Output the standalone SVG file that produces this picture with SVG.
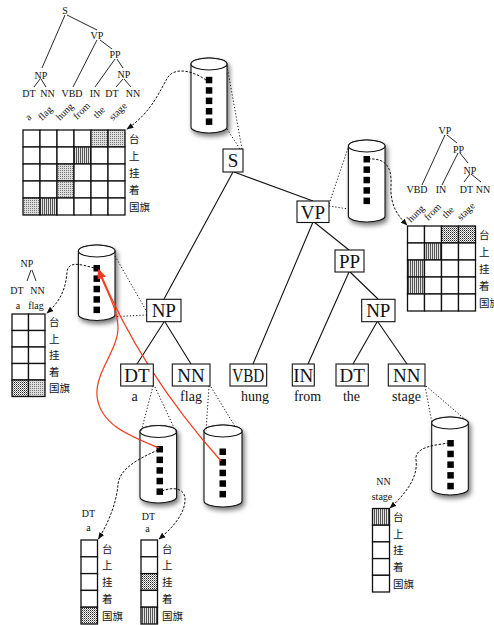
<svg xmlns="http://www.w3.org/2000/svg" width="494" height="625" viewBox="0 0 494 625">
<style>
.t{font-family:"Liberation Serif","DejaVu Serif",serif;font-size:10px;fill:#111;text-anchor:middle}
.tw{font-family:"Liberation Serif","DejaVu Serif",serif;font-size:10px;fill:#111}
.zh{font-family:"Noto Sans CJK SC",sans-serif;font-size:10.5px;fill:#111}
.nb{fill:#fff;stroke:#111;stroke-width:1.1}
.nl{font-family:"Liberation Serif","DejaVu Serif",serif;font-size:19px;fill:#111;text-anchor:middle}
.lw{font-family:"Liberation Serif","DejaVu Serif",serif;font-size:14px;fill:#111;text-anchor:middle}
.e{stroke:#111;stroke-width:1.1;fill:none}
.te{stroke:#111;stroke-width:0.9;fill:none}
.dot{stroke:#111;stroke-width:1;fill:none;stroke-dasharray:1.2 2}
.dsh{stroke:#111;stroke-width:1;fill:none;stroke-dasharray:2.5 1.5;marker-end:url(#ah)}
.red{stroke:#f23a1c;stroke-width:1.2;fill:none;marker-end:url(#rh)}
.cyl{fill:#fff;stroke:#111;stroke-width:1.1}
.sq{fill:#000}
.c{fill:#fff;stroke:#111;stroke-width:1.3}
.pd{fill:url(#pd);stroke:#111;stroke-width:1.3}
.pg{fill:url(#pg);stroke:#111;stroke-width:1.3}
.pv{fill:url(#pv);stroke:#111;stroke-width:1.3}
</style>
<defs>
<pattern id="pd" width="2" height="2" patternUnits="userSpaceOnUse"><rect width="2" height="2" fill="#fff"/><rect width="1" height="1" fill="#222"/><rect x="1" y="1" width="1" height="1" fill="#888"/></pattern>
<pattern id="pg" width="2" height="2" patternUnits="userSpaceOnUse"><rect width="2" height="2" fill="#ddd"/><rect width="1" height="1" fill="#777"/></pattern>
<pattern id="pv" width="2" height="2" patternUnits="userSpaceOnUse"><rect width="2" height="2" fill="#e4e4e4"/><rect width="1" height="2" fill="#555"/></pattern>
<marker id="ah" viewBox="0 0 10 10" refX="9" refY="5" markerWidth="7" markerHeight="7" orient="auto"><path d="M0,1 L10,5 L0,9 z" fill="#111"/></marker>
<marker id="rh" viewBox="0 0 10 10" refX="9" refY="5" markerWidth="8" markerHeight="8" orient="auto"><path d="M0,1 L10,5 L0,9 z" fill="#f23a1c"/></marker>
<filter id="sh" x="-60%" y="-30%" width="220%" height="160%"><feDropShadow dx="2" dy="3" stdDeviation="2.5" flood-color="#000" flood-opacity="0.55"/></filter>
</defs>
<rect width="494" height="625" fill="#fff"/>

<!-- top-left tree -->
<g id="tree-full">
<path class="te" d="M65,15 L42,68 M67,15 L97,30 M97,40 L73,87 M100,40 L112,49 M115,59 L95,87 M117,59 L123,68 M40,79 L34,87 M41,79 L46,87 M123,79 L116,87 M124,79 L131,87"/>
<text class="t" x="65" y="13.5">S</text>
<text class="t" x="97" y="38.5">VP</text>
<text class="t" x="115" y="57.5">PP</text>
<text class="t" x="41" y="78.5">NP</text>
<text class="t" x="124" y="77.5">NP</text>
<text class="t" x="29" y="96.5">DT</text>
<text class="t" x="47.5" y="96.5">NN</text>
<text class="t" x="72" y="96.5">VBD</text>
<text class="t" x="95" y="96.5">IN</text>
<text class="t" x="112" y="96.5">DT</text>
<text class="t" x="133" y="96.5">NN</text>
<text class="tw" transform="translate(29,121) rotate(-45)">a</text>
<text class="tw" transform="translate(42,121) rotate(-45)">flag</text>
<text class="tw" transform="translate(60,121) rotate(-45)">hung</text>
<text class="tw" transform="translate(77,120) rotate(-45)">from</text>
<text class="tw" transform="translate(97,119) rotate(-45)">the</text>
<text class="tw" transform="translate(113,121) rotate(-45)">stage</text>
</g>
<g id="matrix-full">
<rect class="c" x="23" y="130" width="17" height="17"/><rect class="c" x="40" y="130" width="17" height="17"/><rect class="c" x="57" y="130" width="17" height="17"/><rect class="c" x="74" y="130" width="17" height="17"/><rect class="pg" x="91" y="130" width="17" height="17"/><rect class="pg" x="108" y="130" width="17" height="17"/>
<rect class="c" x="23" y="147" width="17" height="17"/><rect class="c" x="40" y="147" width="17" height="17"/><rect class="c" x="57" y="147" width="17" height="17"/><rect class="pv" x="74" y="147" width="17" height="17"/><rect class="c" x="91" y="147" width="17" height="17"/><rect class="c" x="108" y="147" width="17" height="17"/>
<rect class="c" x="23" y="164" width="17" height="17"/><rect class="c" x="40" y="164" width="17" height="17"/><rect class="pg" x="57" y="164" width="17" height="17"/><rect class="c" x="74" y="164" width="17" height="17"/><rect class="c" x="91" y="164" width="17" height="17"/><rect class="c" x="108" y="164" width="17" height="17"/>
<rect class="c" x="23" y="181" width="17" height="17"/><rect class="c" x="40" y="181" width="17" height="17"/><rect class="pg" x="57" y="181" width="17" height="17"/><rect class="c" x="74" y="181" width="17" height="17"/><rect class="c" x="91" y="181" width="17" height="17"/><rect class="c" x="108" y="181" width="17" height="17"/>
<rect class="pg" x="23" y="198" width="17" height="17"/><rect class="pv" x="40" y="198" width="17" height="17"/><rect class="c" x="57" y="198" width="17" height="17"/><rect class="c" x="74" y="198" width="17" height="17"/><rect class="c" x="91" y="198" width="17" height="17"/><rect class="c" x="108" y="198" width="17" height="17"/>
<text class="zh" x="129" y="142.5">台</text><text class="zh" x="129" y="159.5">上</text><text class="zh" x="129" y="176.5">挂</text><text class="zh" x="129" y="193.5">着</text><text class="zh" x="129" y="210.5">国旗</text>
</g>

<!-- right tree -->
<g id="tree-vp">
<path class="te" d="M445,135 L422,185 M447,135 L457,143 M458,153 L442,185 M460,153 L468,163 M470,174 L464,182 M471,174 L481,182"/>
<text class="t" x="445" y="133.5">VP</text>
<text class="t" x="458.5" y="152.5">PP</text>
<text class="t" x="470" y="173.5">NP</text>
<text class="t" x="417" y="192.5">VBD</text>
<text class="t" x="441" y="192.5">IN</text>
<text class="t" x="466.5" y="192.5">DT</text>
<text class="t" x="483" y="192.5">NN</text>
<text class="tw" transform="translate(411,223) rotate(-45)">hung</text>
<text class="tw" transform="translate(428,221) rotate(-45)">from</text>
<text class="tw" transform="translate(446,219) rotate(-45)">the</text>
<text class="tw" transform="translate(461,221) rotate(-45)">stage</text>
</g>
<g id="matrix-vp">
<rect class="c" x="407.5" y="226" width="17" height="17"/><rect class="c" x="424.5" y="226" width="17" height="17"/><rect class="pd" x="441.5" y="226" width="17" height="17"/><rect class="pd" x="458.5" y="226" width="17" height="17"/>
<rect class="c" x="407.5" y="243" width="17" height="17"/><rect class="pv" x="424.5" y="243" width="17" height="17"/><rect class="c" x="441.5" y="243" width="17" height="17"/><rect class="c" x="458.5" y="243" width="17" height="17"/>
<rect class="pv" x="407.5" y="260" width="17" height="17"/><rect class="c" x="424.5" y="260" width="17" height="17"/><rect class="c" x="441.5" y="260" width="17" height="17"/><rect class="c" x="458.5" y="260" width="17" height="17"/>
<rect class="pv" x="407.5" y="277" width="17" height="17"/><rect class="c" x="424.5" y="277" width="17" height="17"/><rect class="c" x="441.5" y="277" width="17" height="17"/><rect class="c" x="458.5" y="277" width="17" height="17"/>
<rect class="c" x="407.5" y="294" width="17" height="17"/><rect class="c" x="424.5" y="294" width="17" height="17"/><rect class="c" x="441.5" y="294" width="17" height="17"/><rect class="c" x="458.5" y="294" width="17" height="17"/>
<text class="zh" x="479" y="238.5">台</text><text class="zh" x="479" y="255.5">上</text><text class="zh" x="479" y="272.5">挂</text><text class="zh" x="479" y="289.5">着</text><text class="zh" x="479" y="306.5">国旗</text>
</g>

<!-- left NP tree -->
<g id="tree-np">
<path class="te" d="M31,270 L27,281 M32,270 L36,281"/>
<text class="t" x="27" y="267">NP</text>
<text class="t" x="17" y="293.5">DT</text>
<text class="t" x="37.5" y="293.5">NN</text>
<text class="t" x="18" y="308.5">a</text>
<text class="t" x="36" y="308.5">flag</text>
</g>
<g id="matrix-np">
<rect class="c" x="12" y="314" width="16.5" height="16.5"/><rect class="c" x="28.5" y="314" width="16.5" height="16.5"/>
<rect class="c" x="12" y="330.5" width="16.5" height="16.5"/><rect class="c" x="28.5" y="330.5" width="16.5" height="16.5"/>
<rect class="c" x="12" y="347" width="16.5" height="16.5"/><rect class="c" x="28.5" y="347" width="16.5" height="16.5"/>
<rect class="c" x="12" y="363.5" width="16.5" height="16.5"/><rect class="c" x="28.5" y="363.5" width="16.5" height="16.5"/>
<rect class="pd" x="12" y="380" width="16.5" height="16.5"/><rect class="pg" x="28.5" y="380" width="16.5" height="16.5"/>
<text class="zh" x="49" y="326">台</text><text class="zh" x="49" y="342.5">上</text><text class="zh" x="49" y="359">挂</text><text class="zh" x="49" y="375.5">着</text><text class="zh" x="49" y="392">国旗</text>
</g>

<!-- word vectors -->
<g id="vec-dt1">
<text class="t" x="88.5" y="517">DT</text><text class="t" x="88.5" y="531">a</text>
<rect class="c" x="81" y="540" width="16.5" height="16.8"/><rect class="c" x="81" y="556.8" width="16.5" height="16.8"/><rect class="c" x="81" y="573.6" width="16.5" height="16.8"/><rect class="c" x="81" y="590.4" width="16.5" height="16.8"/><rect class="pd" x="81" y="607.2" width="16.5" height="16.8"/>
<text class="zh" x="102" y="552.5">台</text><text class="zh" x="102" y="569.3">上</text><text class="zh" x="102" y="586.1">挂</text><text class="zh" x="102" y="602.9">着</text><text class="zh" x="102" y="619.7">国旗</text>
</g>
<g id="vec-dt2">
<text class="t" x="148.5" y="520">DT</text><text class="t" x="147.5" y="532">a</text>
<rect class="c" x="141" y="540" width="16.5" height="16.8"/><rect class="c" x="141" y="556.8" width="16.5" height="16.8"/><rect class="pd" x="141" y="573.6" width="16.5" height="16.8"/><rect class="c" x="141" y="590.4" width="16.5" height="16.8"/><rect class="pv" x="141" y="607.2" width="16.5" height="16.8"/>
<text class="zh" x="162" y="552.5">台</text><text class="zh" x="162" y="569.3">上</text><text class="zh" x="162" y="586.1">挂</text><text class="zh" x="162" y="602.9">着</text><text class="zh" x="162" y="619.7">国旗</text>
</g>
<g id="vec-nn">
<text class="t" x="383.5" y="485">NN</text><text class="t" x="382" y="500">stage</text>
<rect class="pv" x="372.5" y="508.5" width="17" height="16.7"/><rect class="c" x="372.5" y="525.2" width="17" height="16.7"/><rect class="c" x="372.5" y="541.9" width="17" height="16.7"/><rect class="c" x="372.5" y="558.6" width="17" height="16.7"/><rect class="c" x="372.5" y="575.3" width="17" height="16.7"/>
<text class="zh" x="393" y="521">台</text><text class="zh" x="393" y="537.7">上</text><text class="zh" x="393" y="554.4">挂</text><text class="zh" x="393" y="571.1">着</text><text class="zh" x="393" y="587.8">国旗</text>
</g>

<!-- cylinders -->
<g id="cyl-s">
<path class="cyl" filter="url(#sh)" d="M191,64 L191,127 A18,6 0 0 0 227,127 L227,64 A18,6 0 0 0 191,64 z"/>
<ellipse class="cyl" cx="209" cy="64" rx="18" ry="6"/>
<rect class="sq" x="205.8" y="76.8" width="6.5" height="6.5"/><rect class="sq" x="205.8" y="87.2" width="6.5" height="6.5"/><rect class="sq" x="205.8" y="97.6" width="6.5" height="6.5"/><rect class="sq" x="205.8" y="108" width="6.5" height="6.5"/><rect class="sq" x="205.8" y="118.4" width="6.5" height="6.5"/>
</g>
<g id="cyl-vp">
<path class="cyl" filter="url(#sh)" d="M348.4,146 L348.4,216 A18.3,6 0 0 0 385,216 L385,146 A18.3,6 0 0 0 348.4,146 z"/>
<ellipse class="cyl" cx="366.7" cy="146" rx="18.3" ry="6"/>
<rect class="sq" x="363.5" y="156" width="6.5" height="6.5"/><rect class="sq" x="363.5" y="166.4" width="6.5" height="6.5"/><rect class="sq" x="363.5" y="176.8" width="6.5" height="6.5"/><rect class="sq" x="363.5" y="187.2" width="6.5" height="6.5"/><rect class="sq" x="363.5" y="197.6" width="6.5" height="6.5"/>
</g>
<g id="cyl-np">
<path class="cyl" filter="url(#sh)" d="M78.4,251 L78.4,314.5 A18.3,6 0 0 0 115,314.5 L115,251 A18.3,6 0 0 0 78.4,251 z"/>
<ellipse class="cyl" cx="96.7" cy="251" rx="18.3" ry="6"/>
<rect class="sq" x="93.5" y="265" width="6.5" height="6.5"/><rect class="sq" x="93.5" y="275.4" width="6.5" height="6.5"/><rect class="sq" x="93.5" y="285.8" width="6.5" height="6.5"/><rect class="sq" x="93.5" y="296.2" width="6.5" height="6.5"/><rect class="sq" x="93.5" y="306.6" width="6.5" height="6.5"/>
</g>
<g id="cyl-dt">
<path class="cyl" filter="url(#sh)" d="M140,431.5 L140,497 A18.3,6 0 0 0 176.6,497 L176.6,431.5 A18.3,6 0 0 0 140,431.5 z"/>
<ellipse class="cyl" cx="158.3" cy="431.5" rx="18.3" ry="6"/>
<rect class="sq" x="156.5" y="446" width="6.5" height="6.5"/><rect class="sq" x="156.5" y="456.6" width="6.5" height="6.5"/><rect class="sq" x="156.5" y="467.2" width="6.5" height="6.5"/><rect class="sq" x="156.5" y="477.8" width="6.5" height="6.5"/><rect class="sq" x="156.5" y="488.4" width="6.5" height="6.5"/>
</g>
<g id="cyl-nn">
<path class="cyl" filter="url(#sh)" d="M204,431 L204,501 A19,6 0 0 0 242,501 L242,431 A19,6 0 0 0 204,431 z"/>
<ellipse class="cyl" cx="223" cy="431" rx="19" ry="6"/>
<rect class="sq" x="219.5" y="448.5" width="6.5" height="6.5"/><rect class="sq" x="219.5" y="459.1" width="6.5" height="6.5"/><rect class="sq" x="219.5" y="469.7" width="6.5" height="6.5"/><rect class="sq" x="219.5" y="480.3" width="6.5" height="6.5"/><rect class="sq" x="219.5" y="490.9" width="6.5" height="6.5"/>
</g>
<g id="cyl-stage">
<path class="cyl" filter="url(#sh)" d="M431.7,423 L431.7,489 A18.3,6 0 0 0 468.3,489 L468.3,423 A18.3,6 0 0 0 431.7,423 z"/>
<ellipse class="cyl" cx="450" cy="423" rx="18.3" ry="6"/>
<rect class="sq" x="447.3" y="440" width="6.5" height="6.5"/><rect class="sq" x="447.3" y="450.7" width="6.5" height="6.5"/><rect class="sq" x="447.3" y="461.4" width="6.5" height="6.5"/><rect class="sq" x="447.3" y="472.1" width="6.5" height="6.5"/><rect class="sq" x="447.3" y="482.8" width="6.5" height="6.5"/>
</g>

<!-- connectors -->
<g id="connectors">
<path class="e" d="M233,172 L164,299 M234,172 L313,201 M313,222 L253,364 M314,222 L349,250 M349,272 L308,364 M350,272 L378,299 M164,322 L137,364 M165,322 L191,364 M377,322 L353,364 M378,322 L407,364"/>
<path class="dot" d="M227,66 L242,149 M227,129 L240,149"/>
<path class="dot" d="M329,204 L348.4,147 M329,206 L348.4,209"/>
<path class="dot" d="M115,256 L147,312 M117,316.5 L147,315"/>
<path class="dot" d="M153,386 L141,432 M155,387 L176,432"/>
<path class="dot" d="M209,386 L206,431 M211,387 L236,428"/>
<path class="dot" d="M425,386 L432,423 M426,386 L467,421"/>
<path class="dsh" d="M206,80 C195,72 176,66 168,77 C160,90 152,112 127,129"/>
<path class="dsh" d="M368,159 C385,158 392,166 391,185 C390,205 397,215 407,225"/>
<path class="dsh" d="M94,268 C80,264 68,261 67,272 C66,286 62,300 47,313"/>
<path class="dsh" d="M158,450 C140,458 120,468 118,484 C117,500 110,520 98.5,539"/>
<path class="dsh" d="M162,491 C175,486 186,489 185,501 C184,516 170,530 159,539"/>
<path class="dsh" d="M449,443 C435,445 414,447 416,460 C418,474 410,490 390,508"/>
<path class="red" d="M159,448 C130,436 100,425 97,396 C95,372 118,350 118,328 C118,308 104,287 98.5,270"/>
<path class="red" d="M221,461 Q140,370 99,270"/>
</g>

<!-- nodes -->
<g id="n-S"><rect class="nb" x="223" y="149" width="20" height="23"/><text class="nl" x="233" y="167">S</text></g>
<g id="n-VP"><rect class="nb" x="297" y="201" width="32" height="21.5"/><text class="nl" x="313" y="218.5">VP</text></g>
<g id="n-PP"><rect class="nb" x="335" y="250" width="29" height="22"/><text class="nl" x="349.5" y="267.5">PP</text></g>
<g id="n-NP1"><rect class="nb" x="146.7" y="299.3" width="34.3" height="22.4"/><text class="nl" x="163.8" y="317">NP</text></g>
<g id="n-NP2"><rect class="nb" x="361.7" y="299.3" width="33.3" height="22.4"/><text class="nl" x="378.3" y="317">NP</text></g>
<g id="n-DT1"><rect class="nb" x="120.7" y="364" width="32.6" height="22"/><text class="nl" x="137" y="381.5">DT</text><text class="lw" x="134.5" y="401">a</text></g>
<g id="n-NN1"><rect class="nb" x="172.3" y="364" width="37.7" height="22"/><text class="nl" x="191" y="381.5">NN</text><text class="lw" x="191" y="401">flag</text></g>
<g id="n-VBD"><rect class="nb" x="230" y="364" width="36.7" height="22"/><text class="nl" x="248.3" y="381.5" textLength="32" lengthAdjust="spacingAndGlyphs">VBD</text><text class="lw" x="255" y="401">hung</text></g>
<g id="n-IN"><rect class="nb" x="292.3" y="364" width="22" height="22"/><text class="nl" x="303.3" y="381.5">IN</text><text class="lw" x="307.5" y="401">from</text></g>
<g id="n-DT2"><rect class="nb" x="336" y="364" width="32.3" height="22"/><text class="nl" x="352.2" y="381.5">DT</text><text class="lw" x="351.5" y="401">the</text></g>
<g id="n-NN2"><rect class="nb" x="388.3" y="364" width="36.7" height="22"/><text class="nl" x="406.7" y="381.5">NN</text><text class="lw" x="406.5" y="401">stage</text></g>
</svg>
